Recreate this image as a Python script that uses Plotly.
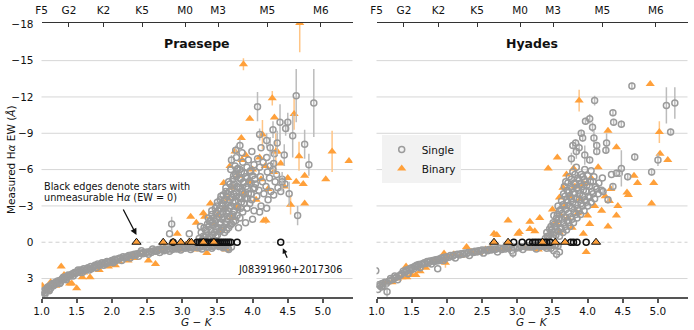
# H-alpha equivalent width vs G-K colour for Praesepe and Hyades
import plotly.graph_objects as go

# ---------------------------------------------------------------- data
GK_TICKS = [1.0, 1.5, 2.0, 2.5, 3.0, 3.5, 4.0, 4.5, 5.0]
EW_TICKS = [-18, -15, -12, -9, -6, -3, 0, 3]
EW_GRID = [-15, -12, -9, -6, -3, 3]
SPT_POS = [1.0, 1.39, 1.88, 2.43, 3.04, 3.51, 4.21, 4.97]
SPT_LABELS = ["F5", "G2", "K2", "K5", "M0", "M3", "M5", "M6"]

# Praesepe: single stars along the main sequence
PR_S_X = [1.00, 1.02, 1.04, 1.06, 1.08, 1.10, 1.12, 1.15, 1.17, 1.20,
          1.22, 1.25, 1.28, 1.30, 1.33, 1.36, 1.38, 1.41, 1.44, 1.47,
          1.50, 1.53, 1.56, 1.60, 1.63, 1.66, 1.70, 1.73, 1.76, 1.80,
          1.83, 1.86, 1.90, 1.93, 1.97, 2.00, 2.04, 2.08, 2.12, 2.16,
          2.20, 2.24, 2.28, 2.32, 2.36, 2.40, 2.45, 2.50, 2.55, 2.60,
          2.65, 2.70, 2.75, 2.80, 2.85, 2.90, 2.95, 3.00, 3.05, 3.10,
          3.15, 3.20, 3.25, 3.30, 3.35, 3.40, 3.45, 3.50, 3.55, 3.60,
          1.05, 1.13, 1.26, 1.35, 1.45, 1.58, 1.68, 1.78, 1.88, 2.02,
          2.14, 2.26, 2.38, 2.52, 2.68, 2.82, 2.98, 3.12, 3.28, 3.42,
          3.58, 2.42, 2.58, 2.72, 2.88, 3.02, 3.18, 3.32, 3.48, 3.65,
          2.82, 3.10, 3.26, 3.39, 3.70, 3.66]
PR_S_EW = [4.4, 4.1, 4.2, 3.9, 3.8, 3.9, 3.6, 3.5, 3.6, 3.3,
           3.4, 3.2, 3.1, 3.0, 2.9, 2.9, 2.7, 2.8, 2.6, 2.5,
           2.5, 2.4, 2.3, 2.2, 2.3, 2.1, 2.0, 2.1, 1.9, 1.8,
           1.9, 1.7, 1.7, 1.6, 1.6, 1.5, 1.4, 1.4, 1.3, 1.2,
           1.25, 1.1, 1.05, 1.0, 0.95, 0.9, 0.85, 0.8, 0.75, 0.7,
           0.7, 0.6, 0.6, 0.55, 0.5, 0.5, 0.45, 0.45, 0.4, 0.4,
           0.35, 0.4, 0.35, 0.3, 0.35, 0.3, 0.3, 0.25, 0.3, 0.2,
           4.3, 3.8, 3.4, 3.1, 2.8, 2.5, 2.3, 2.1, 1.9, 1.7,
           1.5, 1.3, 1.15, 1.0, 0.85, 0.75, 0.65, 0.6, 0.55, 0.5,
           0.45, 0.7, 0.55, 0.45, 0.35, 0.3, 0.2, 0.15, 0.1, 0.5,
           -0.7, -0.7, -1.3, -1.7, 0.4, 0.6]
PR_S2_X = [1.03, 1.09, 1.11, 1.16, 1.19, 1.23, 1.27, 1.31, 1.34, 1.39,
           1.42, 1.48, 1.52, 1.55, 1.61, 1.65, 1.71, 1.75, 1.81, 1.85,
           1.91, 1.95, 2.01, 2.06, 2.10, 2.18, 2.22, 2.30, 2.34, 2.44,
           2.48, 2.56, 2.62, 2.66, 2.74, 2.78, 2.86, 2.92, 2.96, 3.04,
           3.08, 3.14, 3.22, 3.26, 3.34, 3.38, 3.44, 3.52, 3.56, 3.62]
PR_S2_EW = [4.0, 3.7, 4.0, 3.4, 3.5, 3.2, 3.3, 2.9, 3.0, 2.8,
            2.7, 2.6, 2.3, 2.5, 2.3, 2.2, 2.2, 2.0, 1.9, 1.8,
            1.8, 1.7, 1.6, 1.5, 1.35, 1.3, 1.2, 1.1, 1.05, 0.95,
            0.9, 0.85, 0.75, 0.6, 0.7, 0.6, 0.6, 0.55, 0.5, 0.5,
            0.45, 0.45, 0.45, 0.4, 0.4, 0.4, 0.35, 0.35, 0.35, 0.3]

# Praesepe: single M dwarfs in emission
PR_SB_X = [3.24, 3.27,
           3.30, 3.31, 3.29,
           3.34, 3.36, 3.35,
           3.39, 3.41, 3.40, 3.42,
           3.46, 3.44, 3.45, 3.47,
           3.50, 3.52, 3.49, 3.51, 3.50,
           3.56, 3.54, 3.55, 3.57, 3.55,
           3.60, 3.62, 3.59, 3.61, 3.60, 3.62,
           3.66, 3.64, 3.65, 3.67, 3.64, 3.66,
           3.70, 3.72, 3.69, 3.71, 3.70, 3.72, 3.69,
           3.76, 3.74, 3.75, 3.77, 3.74, 3.76, 3.75, 3.77,
           3.80, 3.82, 3.79, 3.81, 3.80, 3.82, 3.79,
           3.86, 3.84, 3.85, 3.87, 3.84, 3.86, 3.85,
           3.90, 3.92, 3.89, 3.91, 3.90, 3.92,
           3.96, 3.94, 3.95, 3.97, 3.94,
           4.00, 4.02, 3.99, 4.01, 4.00, 4.02, 3.99,
           4.06, 4.04, 4.05, 4.07,
           4.10, 4.12, 4.09, 4.11, 4.10, 4.12,
           4.16, 4.14, 4.15,
           4.20, 4.22, 4.19, 4.21, 4.20,
           4.26, 4.24, 4.25,
           4.30, 4.32, 4.29, 4.31,
           4.36, 4.34,
           4.40, 4.42,
           4.46]
PR_SB_EW = [-0.3, -0.8,
            -0.5, -1.2, -0.2,
            -0.6, -1.5, -0.9,
            -0.4, -1.0, -1.8, -2.3,
            -0.8, -1.4, -2.0, -2.8,
            -0.6, -1.2, -1.9, -2.6, -3.3,
            -1.0, -1.6, -2.3, -3.0, -3.8,
            -0.8, -1.5, -2.1, -2.8, -3.5, -4.2,
            -1.2, -1.9, -2.6, -3.3, -4.0, -5.0,
            -1.5, -2.3, -3.0, -3.7, -4.4, -5.2, -6.0,
            -1.8, -2.6, -3.4, -4.1, -4.8, -5.6, -6.3, -7.0,
            -1.2, -2.0, -2.9, -3.7, -4.5, -5.3, -6.1,
            -2.5, -3.3, -4.2, -5.0, -5.8, -6.6, -7.4,
            -1.6, -2.8, -3.6, -4.6, -5.4, -6.2,
            -3.2, -4.0, -5.0, -5.9, -6.8,
            -1.9, -2.6, -3.5, -4.4, -5.5, -6.4, -7.5,
            -3.8, -4.8, -5.8, -6.9,
            -2.5, -3.0, -4.3, -5.4, -6.2, -7.8,
            -4.0, -5.0, -6.6,
            -2.8, -3.5, -4.6, -5.8, -7.0,
            -4.2, -5.3, -6.3,
            -3.9, -5.0, -6.0, -7.3,
            -4.5, -5.6,
            -4.2, -5.2,
            -4.8]
PR_SB2_X = [3.32, 3.33, 3.37, 3.38, 3.37, 3.43, 3.43, 3.42, 3.48, 3.48,
            3.47, 3.48, 3.49, 3.53, 3.53, 3.52, 3.53, 3.54, 3.58, 3.57,
            3.58, 3.57, 3.58, 3.63, 3.63, 3.63, 3.62, 3.63, 3.62, 3.68,
            3.68, 3.67, 3.68, 3.67, 3.68, 3.73, 3.73, 3.72, 3.73, 3.72,
            3.73, 3.78, 3.78, 3.77, 3.78, 3.77, 3.78, 3.83, 3.83, 3.82,
            3.83, 3.82, 3.88, 3.88, 3.87, 3.88, 3.93, 3.93, 3.92, 3.98,
            3.98, 3.97, 4.03, 4.03]
PR_SB2_EW = [-0.4, -1.0, -0.3, -1.3, -2.0, -0.6, -1.6, -2.6, -0.5, -1.1,
             -1.7, -2.4, -3.0, -0.9, -1.5, -2.1, -2.8, -3.5, -1.2, -1.9,
             -2.5, -3.2, -3.9, -1.0, -1.7, -2.4, -3.1, -3.8, -4.5, -1.4,
             -2.1, -2.8, -3.5, -4.2, -4.8, -1.7, -2.5, -3.3, -4.0, -4.7,
             -5.5, -2.2, -3.0, -3.8, -4.6, -5.4, -6.0, -2.8, -3.6, -4.4,
             -5.2, -6.0, -3.2, -4.0, -4.9, -5.7, -3.6, -4.4, -5.3, -4.0,
             -4.9, -5.8, -4.5, -5.2]

# Praesepe: singles with visible error bars
PR_SE_X = [4.07, 4.62, 4.87, 4.39, 4.50, 4.47, 4.57, 4.74, 4.80, 4.29,
           4.10, 4.64, 4.52, 4.35, 4.20, 2.85, 4.30, 4.42, 4.45, 4.25,
           3.76, 3.82, 3.70]
PR_SE_EW = [-11.2, -12.1, -11.5, -9.9, -9.9, -9.4, -8.8, -8.1, -6.4, -9.3,
            -8.9, -2.2, -4.0, -8.2, -8.4, -1.5, -6.5, -5.0, -7.2, -7.8,
            -7.6, -8.0, -6.8]
PR_SE_ERR = [1.2, 2.2, 2.8, 1.5, 0.8, 0.6, 1.8, 1.2, 0.9, 0.7,
             0.5, 0.8, 1.0, 1.0, 0.6, 0.6, 1.0, 0.8, 0.9, 0.9,
             0.4, 0.5, 0.4]

# Praesepe: binaries
PR_B_X = [1.01, 1.07, 1.13, 1.20, 1.28, 1.32, 1.40, 1.43, 1.50, 1.58,
          1.60, 1.69, 1.82, 1.90, 1.95, 2.00, 2.05, 2.10, 2.23, 2.30,
          2.32, 2.45, 2.52, 2.62, 2.70, 2.75, 2.95, 3.05, 3.20, 3.35,
          3.53, 3.62,
          2.93, 3.12, 3.20, 3.30, 3.32, 3.40, 3.45, 3.50, 3.55, 3.59,
          3.60, 3.65, 3.68, 3.70, 3.72, 3.75, 3.78, 3.80, 3.84, 3.85,
          3.88, 3.90, 3.95, 3.96, 4.00, 4.05, 4.10, 4.12, 4.16, 4.18,
          4.22, 4.30, 4.31, 4.35, 4.40, 4.45, 4.50, 4.62, 4.72, 4.74,
          4.74, 5.04, 5.37]
PR_B_EW = [3.6, 4.0, 3.3, 3.6, 2.0, 2.7, 3.4, 3.4, 3.8, 2.9,
           2.5, 2.9, 2.3, 1.9, 2.0, 1.6, 1.9, 1.6, 1.5, 1.1,
           1.3, 1.0, 1.5, 1.8, 0.7, 0.4, 0.6, 0.2, 0.6, 0.9,
           0.4, 0.6,
           -0.7, -2.1, -1.6, -2.4, -2.1, -3.2, -1.5, -2.2, -1.0, -4.9,
           -2.8, -3.6, -6.3, -2.0, -4.5, -7.5, -3.0, -5.5, -8.6, -6.8,
           -4.0, -7.2, -5.0, -10.2, -6.0, -3.5, -7.0, -5.2, -1.8, -6.3,
           -4.4, -5.8, -10.3, -7.5, -6.5, -4.6, -5.3, -5.0, -4.8, -5.5,
           -3.2, -5.2, -6.7]
PR_BE_X = [3.87, 4.67, 4.66, 5.13, 4.59, 4.54, 4.14, 4.33, 4.19, 4.28]
PR_BE_EW = [-14.7, -18.1, -7.1, -7.5, -10.6, -3.1, -8.9, -7.5, -1.8, -11.9]
PR_BE_ERR = [0.5, 2.4, 1.2, 1.7, 1.3, 0.8, 1.2, 1.5, 0.3, 0.6]

# Praesepe: unmeasurable H-alpha (EW = 0)
PR_ND_S_X = [2.87, 3.21, 3.24, 3.27, 3.30, 3.33, 3.36, 3.39, 3.42, 3.45,
             3.48, 3.51, 3.54, 3.57, 3.60, 3.63, 3.66, 3.69, 3.78, 4.40]
PR_ND_B_X = [2.35, 2.73, 2.87, 2.98, 3.10, 3.13, 3.30, 3.45]
J0839_X = 4.40

# Hyades: single stars along the main sequence
HY_S_X = [0.99, 1.02, 1.05, 1.08, 1.10, 1.12, 1.18, 1.22, 1.25, 1.28,
          1.30, 1.32, 1.36, 1.40, 1.43, 1.45, 1.47, 1.50, 1.54, 1.56,
          1.57, 1.60, 1.62, 1.64, 1.68, 1.72, 1.76, 1.78, 1.80, 1.84,
          1.87, 1.88, 1.92, 1.95, 1.96, 2.00, 2.05, 2.10, 2.12, 2.15,
          2.20, 2.25, 2.30, 2.32, 2.35, 2.40, 2.45, 2.50, 2.52, 2.55,
          2.60, 2.65, 2.70, 2.72, 2.75, 2.80, 2.85, 2.90, 2.92, 2.95,
          3.00, 3.05, 3.08, 3.10, 3.15, 3.20, 3.25, 3.27, 3.30, 3.35,
          3.40, 3.42, 3.45, 3.50, 3.52, 3.55, 3.60, 3.48]
HY_S_EW = [2.35, 3.9, 3.6, 3.4, 3.6, 3.3, 3.2, 3.1, 3.0, 2.9,
           3.1, 2.8, 2.6, 2.5, 2.4, 2.6, 2.2, 2.1, 2.0, 2.0,
           1.9, 1.85, 2.1, 1.8, 1.7, 1.6, 1.55, 1.8, 1.5, 1.45,
           2.2, 1.4, 1.3, 1.5, 1.25, 1.2, 1.1, 1.05, 1.3, 1.0,
           0.95, 0.9, 0.85, 1.1, 0.8, 0.75, 0.7, 0.65, 0.9, 0.65,
           0.6, 0.55, 0.55, 0.8, 0.5, 0.5, 0.45, 0.45, 0.7, 0.4,
           0.4, 0.35, 0.6, 0.35, 0.3, 0.35, 0.3, 0.55, 0.3, 0.25,
           0.3, 0.5, 0.25, 0.2, 0.7, 0.2, 0.8, 0.5]
HY_S2_X = [1.04, 1.07, 1.14, 1.20, 1.26, 1.34, 1.38, 1.42, 1.49, 1.53,
           1.59, 1.66, 1.70, 1.74, 1.82, 1.86, 1.90, 1.98, 2.03, 2.08,
           2.18, 2.23, 2.28, 2.38, 2.43, 2.48, 2.58, 2.63, 2.68, 2.78,
           2.83, 2.88, 2.98, 3.03, 3.13, 3.18, 3.23, 3.33, 3.38, 3.44,
           3.53, 3.58]
HY_S2_EW = [3.5, 3.7, 3.4, 3.0, 2.8, 2.7, 2.4, 2.3, 2.3, 2.2,
            2.0, 1.8, 1.75, 1.7, 1.6, 1.55, 1.5, 1.35, 1.25, 1.15,
            1.05, 1.0, 0.95, 0.85, 0.8, 0.75, 0.7, 0.65, 0.6, 0.6,
            0.55, 0.5, 0.5, 0.45, 0.4, 0.4, 0.4, 0.35, 0.35, 0.3,
            0.3, 0.3]

# Hyades: single M dwarfs in emission
HY_SB_X = [3.40, 3.42,
           3.45, 3.46,
           3.50, 3.49, 3.51,
           3.55, 3.54, 3.56,
           3.60, 3.61, 3.59, 3.60,
           3.65, 3.66, 3.64, 3.65, 3.66,
           3.70, 3.71, 3.69, 3.70, 3.71, 3.69,
           3.75, 3.76, 3.74, 3.75, 3.76, 3.74,
           3.80, 3.81, 3.79, 3.80, 3.81, 3.79,
           3.85, 3.86, 3.84, 3.85, 3.86, 3.84,
           3.90, 3.91, 3.89, 3.90, 3.91,
           3.95, 3.96, 3.94, 3.95, 3.96,
           4.00, 4.01, 3.99, 4.00,
           4.05, 4.06, 4.04, 4.05,
           4.10, 4.11, 4.09,
           4.15, 4.16,
           4.20, 4.21,
           4.34, 4.45]
HY_SB_EW = [-0.3, -0.8,
            -0.5, -1.1,
            -0.4, -1.0, -1.6,
            -0.6, -1.3, -2.0,
            -0.5, -1.2, -1.9, -2.6,
            -0.8, -1.6, -2.4, -3.1, -4.0,
            -1.0, -1.8, -2.7, -3.5, -4.3, -5.0,
            -1.3, -2.1, -3.0, -3.8, -4.6, -5.4,
            -1.6, -2.5, -3.3, -4.1, -4.9, -5.8,
            -2.0, -2.8, -3.6, -4.5, -5.3, -6.2,
            -2.3, -3.2, -4.0, -4.8, -5.6,
            -2.6, -3.5, -4.3, -5.2, -6.0,
            -3.0, -3.8, -4.7, -5.5,
            -3.3, -4.2, -5.0, -5.9,
            -3.6, -4.6, -5.4,
            -4.0, -4.9,
            -4.3, -5.3,
            -5.6, -5.7]
HY_SB2_X = [3.43, 3.48, 3.48, 3.53, 3.53, 3.52, 3.58, 3.58, 3.57, 3.58,
            3.63, 3.63, 3.62, 3.63, 3.68, 3.68, 3.67, 3.68, 3.67, 3.73,
            3.73, 3.72, 3.73, 3.72, 3.78, 3.78, 3.77, 3.78, 3.77, 3.83,
            3.83, 3.82, 3.83, 3.82, 3.88, 3.88, 3.87, 3.88, 3.93, 3.93,
            3.92, 3.93, 3.98, 3.98, 3.97, 4.03, 4.03, 4.08, 4.08, 4.13]
HY_SB2_EW = [-0.5, -0.7, -1.3, -0.8, -1.5, -2.2, -0.9, -1.6, -2.3, -3.0,
             -1.1, -1.9, -2.7, -3.4, -1.3, -2.1, -3.0, -3.8, -4.6, -1.6,
             -2.4, -3.3, -4.1, -4.9, -1.9, -2.8, -3.6, -4.4, -5.2, -2.3,
             -3.1, -4.0, -4.8, -5.6, -2.6, -3.5, -4.3, -5.1, -3.0, -3.8,
             -4.6, -5.4, -3.3, -4.2, -5.0, -3.7, -4.6, -4.0, -5.0, -4.4]

# Hyades: singles with visible error bars
HY_SE_X = [1.15, 2.94, 3.56, 4.10, 4.63, 4.36, 4.37, 4.48, 4.03, 3.97,
           4.07, 3.91, 3.93, 4.09, 4.13, 4.27, 4.26, 4.67, 4.48, 4.91,
           3.84, 3.77, 5.12, 5.24, 5.18, 5.00, 3.88, 3.96, 3.79, 3.83,
           4.03, 4.13, 4.41, 4.57, 4.36, 4.22, 4.29]
HY_SE_EW = [4.1, 0.9, 1.0, -11.7, -12.9, -10.7, -9.9, -9.75, -10.2, -10.0,
            -9.5, -9.0, -8.6, -8.6, -8.0, -8.2, -7.6, -7.05, -6.1, -5.8,
            -7.5, -6.9, -11.3, -11.5, -9.1, -6.8, -7.8, -7.2, -8.0, -8.2,
            -6.8, -7.5, -5.7, -5.4, -4.6, -4.2, -3.5]
HY_SE_ERR = [0.6, 0.4, 0.4, 0.4, 0.3, 0.3, 0.3, 0.3, 0.4, 0.3,
             0.4, 0.3, 0.3, 0.6, 0.3, 0.8, 0.3, 0.3, 1.5, 0.3,
             0.6, 0.5, 1.5, 1.3, 0.3, 0.5, 0.4, 0.8, 0.3, 0.3,
             0.3, 0.3, 0.3, 0.3, 0.3, 0.3, 0.3]

# Hyades: binaries
HY_B_X = [1.10, 1.15, 1.22, 1.30, 1.36, 1.42, 1.43, 1.50, 1.56, 1.62,
          1.70, 1.80, 1.90, 1.96, 2.00, 2.10, 2.20, 2.28, 2.35, 2.45,
          2.55, 2.62, 2.70, 2.80, 2.90, 3.10, 3.20, 3.30, 3.40, 3.98,
          2.67, 2.71, 2.87, 3.01, 3.03, 3.18, 3.18, 3.25, 3.32, 3.44,
          3.50, 3.55, 3.57, 3.60, 3.60, 3.62, 3.65, 3.68, 3.70, 3.72,
          3.75, 3.78, 3.80, 3.82, 3.86, 3.90, 3.94, 3.95, 4.00, 4.03,
          4.05, 4.10, 4.15, 4.20, 4.25, 4.29, 4.29, 4.31, 4.33, 4.41,
          4.41, 4.43, 4.56, 4.58, 4.66, 4.71, 4.89, 4.91, 4.94, 5.03,
          5.14]
HY_B_EW = [3.4, 3.3, 3.3, 3.0, 2.9, 2.0, 2.9, 2.7, 2.7, 2.4,
           2.1, 1.6, 1.4, 0.93, 1.2, 1.0, 1.1, 0.4, 0.8, 0.9,
           0.6, 0.5, 0.6, 0.55, 0.5, 0.45, 0.5, 0.6, 0.45, 0.8,
           -0.7, -0.6, -1.8, -0.7, -0.85, -1.1, -1.7, -0.9, -2.0, -6.1,
           -2.7, -1.6, -7.0, -0.8, -3.7, -2.2, -4.5, -3.0, -5.6, -2.0,
           -3.8, -1.2, -6.1, -4.6, -2.4, -3.6, -0.7, -4.8, -2.2, -1.5,
           -5.3, -3.0, -6.2, -2.6, -3.8, -1.3, -9.2, -3.4, -4.4, -7.85,
           -2.2, -3.0, -4.1, -3.9, -5.5, -4.9, -13.06, -3.2, -4.9, -7.3,
           -6.8]
HY_BE_X = [3.88, 5.02, 1.98]
HY_BE_EW = [-11.7, -9.1, 1.7]
HY_BE_ERR = [0.9, 0.9, 0.4]

# Hyades: unmeasurable H-alpha (EW = 0)
HY_ND_S_X = [2.95, 3.07, 3.17, 3.22, 3.26, 3.30, 3.34, 3.38, 3.42, 3.47,
             3.76, 3.80, 3.85, 3.98]
HY_ND_B_X = [2.67, 2.87, 3.36, 3.54, 3.68, 4.12]

# ---------------------------------------------------------------- style
W, H = 694, 330
FONT = "DejaVu Sans"
GREY = "#9b9b9b"
GREY_ERR = "#bcbcbc"
ORANGE = "#ffa03a"
ORANGE_ERR = "#ffc586"
X_RANGE = [1.0, 5.42]
Y_RANGE = [4.5, -18.15]

fig = go.Figure()


def add_panel(xa, ya, singles, se_x, se_ew, se_err,
              b_x, b_ew, be_x, be_ew, be_err, nd_s, nd_b, legend):
    common = dict(mode="markers", xaxis=xa, yaxis=ya, hoverinfo="skip")
    tri = dict(symbol="triangle-up", size=8, color=ORANGE, line=dict(width=0))
    circ = dict(symbol="circle-open", size=6, color=GREY, line=dict(width=1.5))
    # binaries underneath
    fig.add_trace(go.Scatter(x=b_x, y=b_ew, marker=tri, showlegend=False, **common))
    fig.add_trace(go.Scatter(
        x=be_x, y=be_ew, marker=tri, name="Binary", showlegend=legend, legendrank=2,
        error_y=dict(type="data", array=be_err, color=ORANGE_ERR, thickness=1.5, width=0),
        **common))
    # singles
    for sx, sy in singles:
        fig.add_trace(go.Scatter(x=sx, y=sy, marker=circ, showlegend=False, **common))
    fig.add_trace(go.Scatter(
        x=se_x, y=se_ew, marker=circ, name="Single", showlegend=legend, legendrank=1,
        error_y=dict(type="data", array=se_err, color=GREY_ERR, thickness=1.5, width=0),
        **common))
    # unmeasurable H-alpha, black edges
    fig.add_trace(go.Scatter(
        x=nd_s, y=[0] * len(nd_s), showlegend=False,
        marker=dict(symbol="circle-open", size=6, color="#111111", line=dict(width=1.5)),
        **common))
    fig.add_trace(go.Scatter(
        x=nd_b, y=[0] * len(nd_b), showlegend=False,
        marker=dict(symbol="triangle-up", size=8, color=ORANGE,
                    line=dict(width=1, color="#111111")),
        **common))


add_panel("x", "y",
          [(PR_S_X, PR_S_EW), (PR_S2_X, PR_S2_EW), (PR_SB_X, PR_SB_EW), (PR_SB2_X, PR_SB2_EW)],
          PR_SE_X, PR_SE_EW, PR_SE_ERR,
          PR_B_X, PR_B_EW, PR_BE_X, PR_BE_EW, PR_BE_ERR, PR_ND_S_X, PR_ND_B_X, False)
add_panel("x2", "y2",
          [(HY_S_X, HY_S_EW), (HY_S2_X, HY_S2_EW), (HY_SB_X, HY_SB_EW), (HY_SB2_X, HY_SB2_EW)],
          HY_SE_X, HY_SE_EW, HY_SE_ERR,
          HY_B_X, HY_B_EW, HY_BE_X, HY_BE_EW, HY_BE_ERR, HY_ND_S_X, HY_ND_B_X, True)

# empty traces so the top spectral-type axes are drawn
for xa, ya in (("x3", "y"), ("x4", "y2")):
    fig.add_trace(go.Scatter(x=[], y=[], xaxis=xa, yaxis=ya, showlegend=False))

dom_l = [41.5 / W, 352.5 / W]
dom_r = [376.5 / W, 687.5 / W]
dom_y = [33.3 / H, 307.5 / H]

bottom = dict(
    range=X_RANGE, tickvals=GK_TICKS, ticktext=["%.1f" % v for v in GK_TICKS],
    showline=True, linecolor="#555555", linewidth=2, ticks="outside", ticklen=4,
    tickwidth=1.5, tickcolor="#555555", showgrid=False, zeroline=False,
    tickfont=dict(size=10.5, color="#111111"), automargin=False,
)
top = dict(
    range=X_RANGE, tickvals=SPT_POS, ticktext=SPT_LABELS, side="top",
    showline=True, linecolor="#333333", linewidth=1, ticks="inside", ticklen=4,
    tickwidth=1, tickcolor="#333333", showgrid=False, zeroline=False,
    tickfont=dict(size=10.5, color="#111111"), automargin=False, ticklabelstandoff=3,
)
left = dict(
    range=Y_RANGE, tickvals=EW_TICKS, ticktext=["\u2212%d" % -v if v < 0 else str(v) for v in EW_TICKS],
    showline=False, showgrid=False, zeroline=False, ticks="",
    tickfont=dict(size=10.5, color="#111111"), automargin=False, ticklabelstandoff=7,
)

fig.update_layout(
    width=W, height=H,
    margin=dict(l=0, r=0, t=0, b=0),
    paper_bgcolor="white", plot_bgcolor="white",
    font=dict(family=FONT, size=10.5, color="#111111"),
    xaxis=dict(domain=dom_l, anchor="y", **bottom),
    xaxis2=dict(domain=dom_r, anchor="y2", **bottom),
    xaxis3=dict(domain=dom_l, anchor="y", overlaying="x", **top),
    xaxis4=dict(domain=dom_r, anchor="y2", overlaying="x2", **top),
    yaxis=dict(domain=dom_y, anchor="x", **left),
    yaxis2=dict(domain=dom_y, anchor="x2", **dict(left, showticklabels=False)),
    showlegend=True,
    legend=dict(
        x=381.7 / W, y=(H - 135) / H, xanchor="left", yanchor="top",
        bgcolor="#f2f2f2", bordercolor="#f2f2f2", borderwidth=0,
        font=dict(size=10.5), itemwidth=30, tracegroupgap=0,
    ),
)

# grid lines and the dashed EW = 0 reference
for xr, yr in (("x domain", "y"), ("x2 domain", "y2")):
    for v in EW_GRID:
        fig.add_shape(type="line", xref=xr, yref=yr, x0=0, x1=1, y0=v, y1=v,
                      line=dict(color="#d6d6d6", width=1), layer="below")
    fig.add_shape(type="line", xref=xr, yref=yr, x0=0, x1=1, y0=0, y1=0,
                  line=dict(color="#cfcfcf", width=1, dash="4px,3px"), layer="below")

# panel titles and axis titles
for xr, name in (("x domain", "Praesepe"), ("x2 domain", "Hyades")):
    fig.add_annotation(xref=xr, yref="paper", x=0.5, y=(H - 44) / H, text="<b>%s</b>" % name,
                       showarrow=False, font=dict(size=12.5), yanchor="middle")
    fig.add_annotation(xref=xr, yref="paper", x=0.5, y=(H - 321.5) / H,
                       text="<i>G</i> \u2212 <i>K</i>", showarrow=False,
                       font=dict(size=10.5), yanchor="middle")
fig.add_annotation(xref="paper", yref="paper", x=11 / W, y=(H - 160) / H, textangle=-90,
                   text="Measured H<i>\u03b1</i> EW (<i>\u00c5</i>)", showarrow=False,
                   font=dict(size=10.5), xanchor="center", yanchor="middle")

# notes
fig.add_annotation(xref="paper", yref="paper", x=41.7 / W, y=(H - 186.7) / H,
                   text="Black edges denote stars with", showarrow=False,
                   font=dict(size=9.7), xanchor="left", yanchor="middle")
fig.add_annotation(xref="paper", yref="paper", x=41.7 / W, y=(H - 197) / H,
                   text="unmeasurable H<i>\u03b1</i> (EW = 0)", showarrow=False,
                   font=dict(size=9.7), xanchor="left", yanchor="middle")
fig.add_annotation(xref="x", yref="y", x=PR_ND_B_X[0], y=-0.6, ax=-14, ay=-27, text="",
                   showarrow=True, arrowhead=2, arrowsize=1, arrowwidth=1.3,
                   arrowcolor="#111111")
fig.add_annotation(xref="x", yref="y", x=J0839_X + 0.13, y=2.23, text="J08391960+2017306",
                   showarrow=False, font=dict(size=9.7), yanchor="middle")
fig.add_annotation(xref="x", yref="y", x=J0839_X + 0.03, y=0.5, ax=5, ay=11, text="",
                   showarrow=True, arrowhead=2, arrowsize=0.8, arrowwidth=1.3,
                   arrowcolor="#111111")

# the page body has a default 8px margin; drop it so the figure fills the window
fig.write_html("out.html", config={"displayModeBar": False},
               post_script="document.body.style.margin='0px';")
